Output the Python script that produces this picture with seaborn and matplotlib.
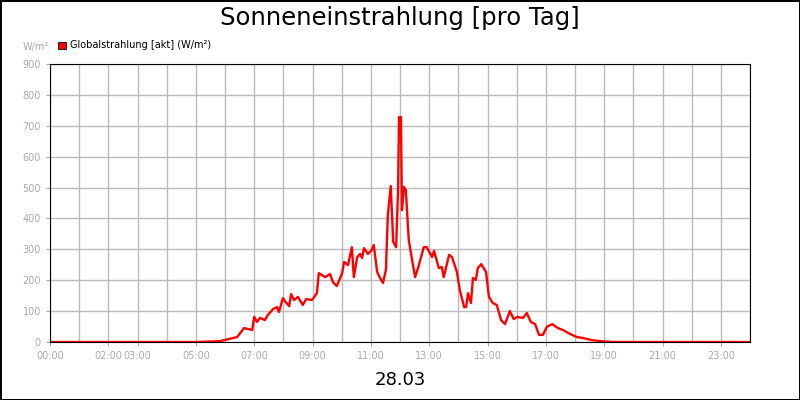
import matplotlib
matplotlib.use("Agg")
import matplotlib.pyplot as plt
import seaborn as sns
import pandas as pd

minutes = [0,300,339,350,385,399,416,420,426,432,442,448,459,467,471,479,485,492,496,502,510,520,527,539,549,553,566,576,582,590,601,605,613,621,625,632,638,642,646,654,662,666,673,679,685,691,695,701,706,712,716,718,722,724,728,732,738,745,751,757,769,775,786,790,800,806,810,821,827,837,843,852,856,860,866,870,876,880,887,897,903,911,919,928,936,946,954,961,973,981,989,998,1006,1014,1022,1033,1045,1055,1070,1084,1096,1115,1131,1158,1440]
values = [0,0,2,3,16,45,39,81,65,78,71,87,107,113,97,142,129,116,155,136,146,120,139,136,158,223,210,220,194,181,223,259,249,307,210,275,285,272,304,285,298,314,227,207,191,233,411,505,324,307,492,728,728,427,502,492,330,265,210,239,307,307,275,295,239,243,210,282,275,227,168,113,113,158,126,207,201,239,252,227,146,126,120,71,58,100,74,81,78,94,65,58,23,23,49,58,45,39,26,16,13,6,3,0,0]
tick_hours = [0,2,3,5,7,9,11,13,15,17,19,21,23]
tick_labels = ["00:00","02:00","03:00","05:00","07:00","09:00","11:00","13:00","15:00","17:00","19:00","21:00","23:00"]
series_name = "Globalstrahlung [akt] (W/m²)"

df = pd.DataFrame({"min": minutes, "val": values})
fig = plt.figure(figsize=(8, 4), dpi=100)
fig.patch.set_edgecolor("black"); fig.patch.set_linewidth(2)
ax = fig.add_axes([0.0625, 0.145, 0.875, 0.695])
sns.lineplot(data=df, x="min", y="val", color="#ff0000", lw=1.7, ax=ax, legend=False)
ax.set_xlim(0, 1440); ax.set_ylim(0, 900)
ax.set_xticks([h*60 for h in range(25)], minor=True)
ax.set_xticks([h*60 for h in tick_hours])
ax.set_xticklabels(tick_labels)
ax.set_yticks(range(0, 901, 100))
ax.grid(which="both", color="#bbbbbb", lw=1)
ax.tick_params(which="both", colors="#aaaaaa", labelsize=7, length=3)
ax.tick_params(which="minor", length=0)
for s in ax.spines.values(): s.set_color("black")
ax.set_xlabel(""); ax.set_ylabel("")
fig.text(0.5, 0.955, "Sonneneinstrahlung [pro Tag]", ha="center", va="center", fontsize=17.5)
fig.text(0.5, 0.05, "28.03", ha="center", va="center", fontsize=13)
fig.text(0.028, 0.882, "W/m²", color="#aaaaaa", fontsize=7, va="center")
fig.patches.append(plt.Rectangle((0.073, 0.878), 0.009, 0.018, transform=fig.transFigure, facecolor="#ff0000", edgecolor="black", lw=0.6))
fig.text(0.087, 0.888, series_name, fontsize=7, va="center")
fig.savefig("out.png", dpi=100, edgecolor=fig.get_edgecolor())
